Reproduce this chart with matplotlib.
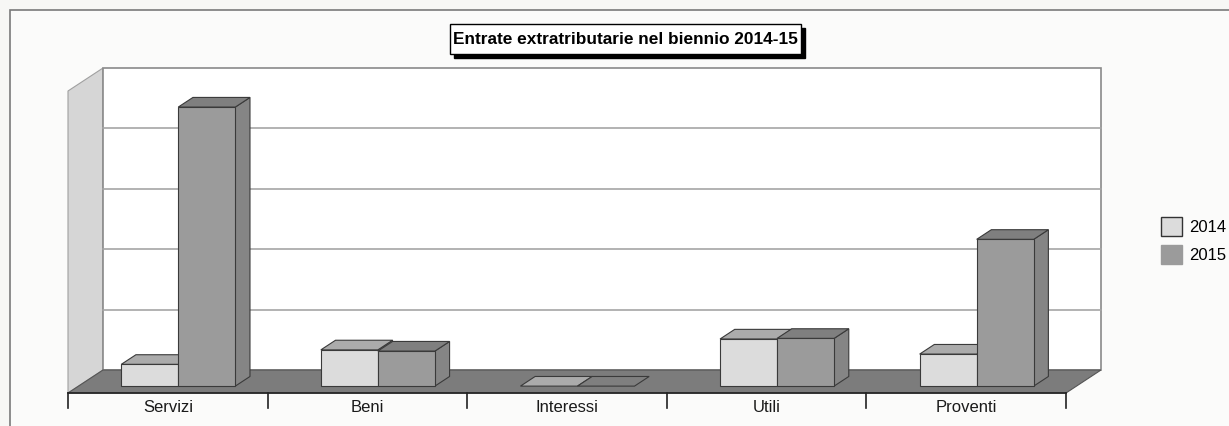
import matplotlib.pyplot as plt
from matplotlib.patches import Polygon, Rectangle, Patch

categories = ["Servizi", "Beni", "Interessi", "Utili", "Proventi"]
years = ["2014", "2015"]
values_2014 = [0.36, 0.60, 0.0, 0.78, 0.53]
values_2015 = [4.62, 0.58, 0.0, 0.79, 2.43]
title = "Entrate extratributarie nel biennio 2014-15"

plt.rcParams['font.family'] = ['Liberation Sans', 'DejaVu Sans']

W, H = 1229, 426
fig = plt.figure(figsize=(W / 100, H / 100), dpi=100)
fig.patch.set_facecolor("#f7f7f5")

# one category = 199.6 px, one grid step = 60.4 px, origin at front-left floor corner
x0_px, y0_px = 68, 393
sx, sy = 199.6, 60.4
ax = fig.add_axes([0, 0, 1, 1])
ax.set_xlim(-x0_px / sx, (W - x0_px) / sx)
ax.set_ylim(-(H - y0_px) / sy, y0_px / sy)
ax.axis("off")


def fpx(x, y):
    # pixel position -> figure fraction
    return x / W, 1 - y / H


# outer chart frame
fig.add_artist(Rectangle(fpx(10, 440), (W + 20) / W, 430 / H, transform=fig.transFigure,
                         facecolor="#fbfbfa", edgecolor="#7a7a7a", lw=1.2, zorder=0))

n = len(categories)
ymax = 5
DX, DY = 0.175, 0.38   # full depth offset of the 3d box


def proj(x, y, d):
    return (x + d * DX, y + d * DY)


# side wall, back wall, floor
ax.add_patch(Polygon([proj(0, 0, 0), proj(0, 0, 1), proj(0, ymax, 1), proj(0, ymax, 0)],
                     facecolor="#d6d6d6", edgecolor="#a0a0a0", lw=0.8, zorder=1))
ax.add_patch(Polygon([proj(0, 0, 1), proj(n, 0, 1), proj(n, ymax, 1), proj(0, ymax, 1)],
                     facecolor="white", edgecolor="#8a8a8a", lw=1.2, zorder=1))
for k in range(1, ymax):
    (xa, ya), (xb, yb) = proj(0, k, 1), proj(n, k, 1)
    ax.plot([xa, xb], [ya, yb], color="#a5a5a5", lw=1.2, zorder=2)
ax.add_patch(Polygon([proj(0, 0, 0), proj(n, 0, 0), proj(n, 0, 1), proj(0, 0, 1)],
                     facecolor="#7c7c7c", edgecolor="#555555", lw=0.8, zorder=3))

# bars: gap width 150 %
w = 1 / 3.5
gap = 0.75 * w
d0, d1 = 0.30, 0.72
styles = [
    dict(front="#dcdcdc", top="#ababab", side="#9a9a9a"),
    dict(front="#9b9b9b", top="#7f7f7f", side="#858585"),
]
edge = dict(edgecolor="#3a3a3a", lw=0.8, zorder=4)
for i in range(n):
    for j, vals in enumerate([values_2014, values_2015]):
        v = vals[i]
        st = styles[j]
        xl = i + gap + j * w
        xr = xl + w
        if v > 0:
            ax.add_patch(Polygon([proj(xr, 0, d0), proj(xr, 0, d1), proj(xr, v, d1), proj(xr, v, d0)],
                                 facecolor=st["side"], **edge))
        ax.add_patch(Polygon([proj(xl, v, d0), proj(xr, v, d0), proj(xr, v, d1), proj(xl, v, d1)],
                             facecolor=st["top"], **edge))
        if v > 0:
            ax.add_patch(Polygon([proj(xl, 0, d0), proj(xr, 0, d0), proj(xr, v, d0), proj(xl, v, d0)],
                                 facecolor=st["front"], **edge))

# category axis
tick = 15 / sy
ax.plot([0, n], [0, 0], color="#222222", lw=1.2, zorder=5)
for i in range(n + 1):
    ax.plot([i, i], [0, -tick], color="#222222", lw=1.2, zorder=5)
for i, c in enumerate(categories):
    ax.text(i + 0.5, -tick, c, ha="center", va="center", fontsize=12, color="#1a1a1a")

# title box with drop shadow
tx0, ty0, tx1, ty1 = 450, 24, 801, 54
fig.add_artist(Rectangle(fpx(tx0 + 4, ty1 + 4), (tx1 - tx0) / W, (ty1 - ty0) / H,
                         transform=fig.transFigure, facecolor="black", edgecolor="black", zorder=6))
fig.add_artist(Rectangle(fpx(tx0, ty1), (tx1 - tx0) / W, (ty1 - ty0) / H,
                         transform=fig.transFigure, facecolor="white", edgecolor="black", lw=1, zorder=7))
fig.text(*fpx((tx0 + tx1) / 2, (ty0 + ty1) / 2 + 1), title, ha="center", va="center",
         fontsize=12.4, fontweight="bold", color="black", zorder=8)

# legend
handles = [Patch(facecolor=styles[0]["front"], edgecolor="#333333", lw=1),
           Patch(facecolor=styles[1]["front"], edgecolor=styles[1]["front"], lw=1)]
fig.legend(handles, years, loc="upper left", bbox_to_anchor=fpx(1161, 217), frameon=False,
           fontsize=12, handlelength=1.25, handleheight=1.42, handletextpad=0.45,
           labelspacing=0.5, borderpad=0, borderaxespad=0)

fig.savefig("out.png", dpi=100, facecolor=fig.get_facecolor())
